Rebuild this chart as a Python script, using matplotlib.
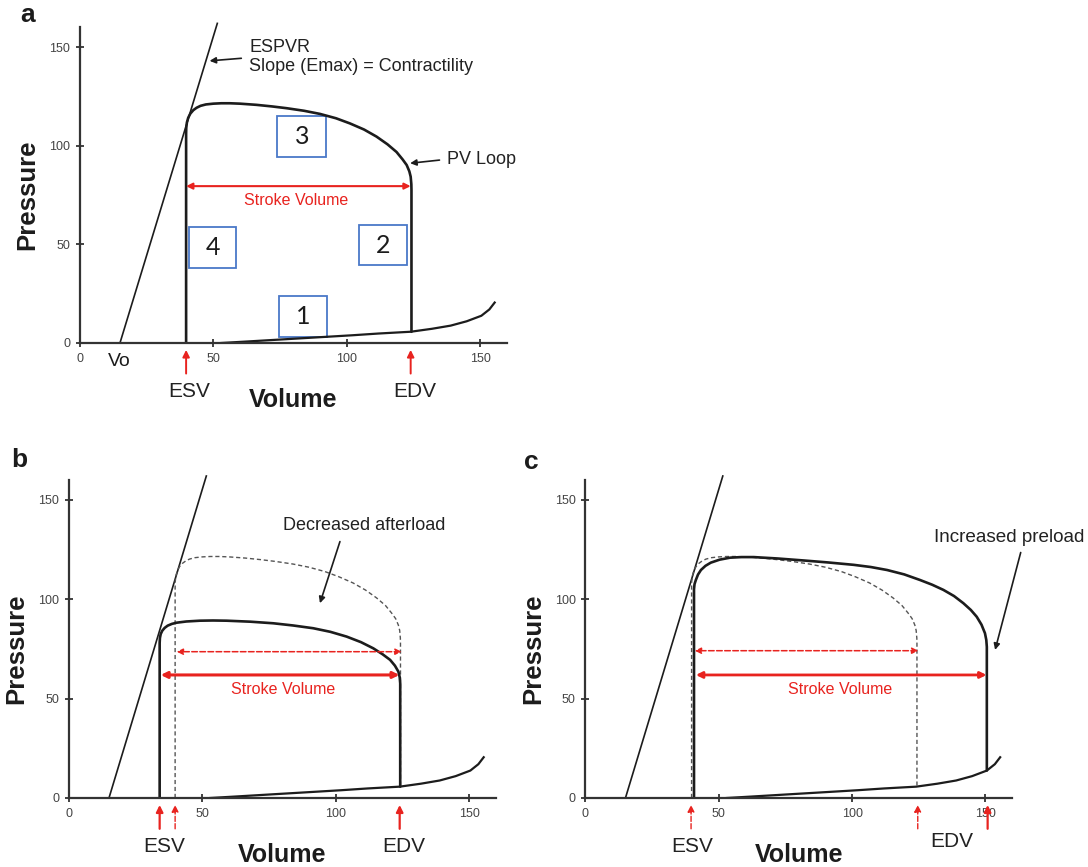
import matplotlib
matplotlib.use("Agg")
import matplotlib.pyplot as plt
from matplotlib.patches import Rectangle

plt.rcParams["font.family"] = ["Liberation Sans", "DejaVu Sans"]

# ---------------- data ----------------
vol_ticks = [0, 50, 100, 150]
pres_ticks = [0, 50, 100, 150]

# End-systolic pressure-volume relation (straight line from Vo)
espvr_v = [15.0, 51.5]
espvr_p = [0.0, 162.0]

# End-diastolic pressure-volume relation (filling curve)
edpvr_v = [53, 62, 72, 82, 92, 102, 112, 124, 132, 139, 145, 150.5, 153.5, 155.5]
edpvr_p = [0.0, 0.7, 1.5, 2.3, 3.1, 3.9, 4.8, 5.7, 7.2, 8.8, 11.0, 13.8, 17.0, 20.5]

# Baseline PV loop: relaxation limb up from ESV, ejection top, down to EDV
base_loop_v = [39.8, 39.8, 39.85, 40.1, 40.6, 41.4, 42.5, 43.7, 45.2, 47.2, 50.0,
               53.0, 56.2, 60.0, 66.2, 72.0, 77.5, 84.0, 90.0, 96.0, 101.2, 106.5,
               111.2, 115.3, 118.7, 121.0, 122.5, 123.5, 124.0, 124.25, 124.3, 124.3]
base_loop_p = [0.0, 106.0, 109.0, 111.8, 114.2, 116.3, 118.0, 119.2, 120.2, 120.9,
               121.3, 121.5, 121.5, 121.3, 120.7, 119.9, 119.0, 117.7, 116.1, 113.9,
               111.3, 108.2, 104.6, 100.7, 96.8, 93.0, 90.2, 87.0, 84.3, 80.5, 77.5, 5.7]

# Loop with decreased afterload
afterload_loop_v = [34.0, 34.0, 34.1, 34.4, 35.0, 35.9, 37.0, 38.6, 40.4, 44.0, 49.1,
                    54.0, 59.1, 68.0, 76.6, 84.0, 91.6, 98.0, 104.1, 109.5, 114.1,
                    117.6, 120.4, 122.2, 123.5, 124.0, 124.2, 124.2]
afterload_loop_p = [0.0, 78.0, 80.5, 82.5, 84.2, 85.6, 86.7, 87.6, 88.2, 88.8, 89.2,
                    89.3, 89.2, 88.7, 87.9, 86.8, 85.4, 83.6, 81.2, 78.4, 75.3,
                    72.3, 69.5, 66.6, 63.6, 60.8, 57.7, 5.7]

# Loop with increased preload
preload_loop_v = [40.7, 40.7, 40.9, 41.4, 42.2, 43.3, 45.0, 47.0, 50.3, 54.2, 58.5,
                  63.1, 72.0, 81.8, 91.0, 100.6, 107.0, 113.1, 119.5, 125.4, 130.0,
                  134.2, 138.2, 141.7, 144.5, 146.7, 148.5, 149.8, 150.3, 150.5, 150.5]
preload_loop_p = [0.0, 105.0, 107.6, 109.7, 112.4, 114.7, 116.8, 118.4, 119.9, 120.9,
                  121.2, 121.2, 120.5, 119.5, 118.5, 117.3, 116.2, 114.7, 112.5, 109.7,
                  107.3, 104.7, 101.6, 98.0, 94.6, 91.2, 87.2, 82.9, 79.5, 76.0, 13.8]

base_esv, base_edv = 39.8, 124.0
afterload_esv, afterload_edv = 34.0, 124.0
preload_esv, preload_edv = 39.6, 150.8
old_edv = 124.6

# numbered phases of the cycle: (label, v_left, v_right, p_bottom, p_top)
phase_boxes = [("1", 74.7, 92.5, 2.9, 23.8),
               ("2", 104.7, 122.7, 39.5, 59.8),
               ("3", 74.0, 92.3, 94.4, 115.0),
               ("4", 41.0, 58.5, 37.9, 58.6)]

# ---------------- style ----------------
RED = "#e8231f"
INK = "#1c1c1c"
GREY = "#555555"
BLUE = "#4a78c8"

fig = plt.figure(figsize=(10.88, 8.67), dpi=100)
ax_a = fig.add_axes([0.0735, 0.6044, 0.3922, 0.3641])
ax_b = fig.add_axes([0.0634, 0.0796, 0.3922, 0.3668])
ax_c = fig.add_axes([0.5381, 0.0796, 0.3922, 0.3668])


def setup(ax, vol_base):
    ax.set_xlim(0, 160)
    ax.set_ylim(0, 160)
    for s in ("top", "right"):
        ax.spines[s].set_visible(False)
    for s in ("left", "bottom"):
        ax.spines[s].set_linewidth(1.6)
        ax.spines[s].set_color("#333333")
    ax.set_xticks(vol_ticks)
    ax.set_yticks(pres_ticks)
    ax.tick_params(direction="inout", length=6, width=1.3, color="#333333",
                   labelsize=9, labelcolor="#444444", pad=4)
    ax.set_ylabel("Pressure", fontsize=18.5, fontweight="bold", color=INK)
    ax.yaxis.set_label_coords(-0.095, 0.469)
    ax.text(80, vol_base, "Volume", ha="center", va="baseline", fontsize=18,
            fontweight="bold", color=INK, clip_on=False)


def span_arrow(ax, x0, x1, y, lw, ls="-"):
    ax.annotate("", xy=(x0, y), xytext=(x1, y),
                arrowprops=dict(arrowstyle="<|-|>", color=RED, lw=lw, ls=ls,
                                mutation_scale=9, shrinkA=0, shrinkB=0))


def marker_arrow(ax, x, lw=1.4, ls="-"):
    ax.annotate("", xy=(x, -3.5), xytext=(x, -15.5), annotation_clip=False,
                arrowprops=dict(arrowstyle="-|>", color=RED, lw=lw, ls=ls,
                                mutation_scale=10, shrinkA=0, shrinkB=0))


def pointer(ax, start, end):
    ax.annotate("", xy=end, xytext=start, annotation_clip=False,
                arrowprops=dict(arrowstyle="-|>", color=INK, lw=1.2,
                                mutation_scale=9, shrinkA=0, shrinkB=0))


loop_style = dict(color=INK, lw=1.9, solid_joinstyle="round", solid_capstyle="round")
dash_style = dict(color=GREY, lw=1.0, ls=(0, (3, 2)), dash_joinstyle="round")

for ax, vb in ((ax_a, -32.3), (ax_b, -32.3), (ax_c, -32.3)):
    setup(ax, vb)
    ax.plot(espvr_v, espvr_p, color=INK, lw=1.2, clip_on=False)
    ax.plot(edpvr_v, edpvr_p, color=INK, lw=1.6, solid_joinstyle="round")

# ---- panel a: normal loop ----
ax_a.plot(base_loop_v, base_loop_p, **loop_style)
span_arrow(ax_a, base_esv, base_edv, 79.5, lw=1.5)
ax_a.text(81.2, 72.0, "Stroke Volume", color=RED, fontsize=11.5, ha="center", va="center")
for label, v0, v1, p0, p1 in phase_boxes:
    ax_a.add_patch(Rectangle((v0, p0), v1 - v0, p1 - p0, fill=False, ec=BLUE, lw=1.3))
    ax_a.text((v0 + v1) / 2, (p0 + p1) / 2, label, ha="center", va="center",
              fontsize=18, color=INK, family=["Lato", "DejaVu Sans"])
ax_a.text(63.4, 144.8, "ESPVR\nSlope (Emax) = Contractility", ha="left", va="center",
          fontsize=13, color="#222222", linespacing=1.15)
pointer(ax_a, (60.5, 144.3), (48.6, 143.0))
ax_a.text(137.7, 93.2, "PV Loop", ha="left", va="center", fontsize=13, color="#222222")
pointer(ax_a, (134.8, 92.7), (123.8, 91.1))
ax_a.text(14.6, -11.7, "Vo", ha="center", va="baseline", fontsize=14, color=INK)
marker_arrow(ax_a, base_esv)
marker_arrow(ax_a, base_edv)
ax_a.text(40.8, -27.5, "ESV", ha="center", va="baseline", fontsize=15, color="#222222")
ax_a.text(125.5, -27.5, "EDV", ha="center", va="baseline", fontsize=15, color="#222222")

# ---- panel b: decreased afterload ----
ax_b.plot(base_loop_v, base_loop_p, **dash_style)
ax_b.plot(afterload_loop_v, afterload_loop_p, **loop_style)
span_arrow(ax_b, 40.4, 124.7, 73.6, lw=1.1, ls="--")
span_arrow(ax_b, 34.4, 123.9, 61.9, lw=2.2)
ax_b.text(80.2, 54.4, "Stroke Volume", color=RED, fontsize=11.5, ha="center", va="center")
ax_b.text(110.6, 137.0, "Decreased afterload", ha="center", va="center", fontsize=13,
          color="#222222")
pointer(ax_b, (101.6, 129.0), (94.1, 98.0))
marker_arrow(ax_b, afterload_esv, lw=1.6)
marker_arrow(ax_b, base_esv, lw=1.0, ls="--")
marker_arrow(ax_b, afterload_edv, lw=1.6)
ax_b.text(35.7, -27.0, "ESV", ha="center", va="baseline", fontsize=15, color="#222222")
ax_b.text(125.6, -27.0, "EDV", ha="center", va="baseline", fontsize=15, color="#222222")

# ---- panel c: increased preload ----
ax_c.plot(base_loop_v, base_loop_p, **dash_style)
ax_c.plot(preload_loop_v, preload_loop_p, **loop_style)
span_arrow(ax_c, 41.0, 124.8, 74.1, lw=1.1, ls="--")
span_arrow(ax_c, 41.4, 150.4, 61.9, lw=2.0)
ax_c.text(95.4, 54.4, "Stroke Volume", color=RED, fontsize=11.5, ha="center", va="center")
ax_c.text(130.8, 131.1, "Increased preload", ha="left", va="center", fontsize=13.6,
          color="#222222")
pointer(ax_c, (163.2, 123.5), (153.6, 74.5))
marker_arrow(ax_c, preload_esv, lw=1.0, ls="--")
marker_arrow(ax_c, old_edv, lw=1.0, ls="--")
marker_arrow(ax_c, preload_edv, lw=1.6)
ax_c.text(40.2, -27.0, "ESV", ha="center", va="baseline", fontsize=15, color="#222222")
ax_c.text(137.2, -24.5, "EDV", ha="center", va="baseline", fontsize=15, color="#222222")

# panel letters
for letter, x, y in (("a", 27.6 / 1088, 1 - 15 / 867), ("b", 19 / 1088, 1 - 460 / 867),
                     ("c", 531.7 / 1088, 1 - 462 / 867)):
    fig.text(x, y, letter, ha="center", va="center", fontsize=19, fontweight="bold",
             color=INK)

fig.savefig("out.png", dpi=100)
